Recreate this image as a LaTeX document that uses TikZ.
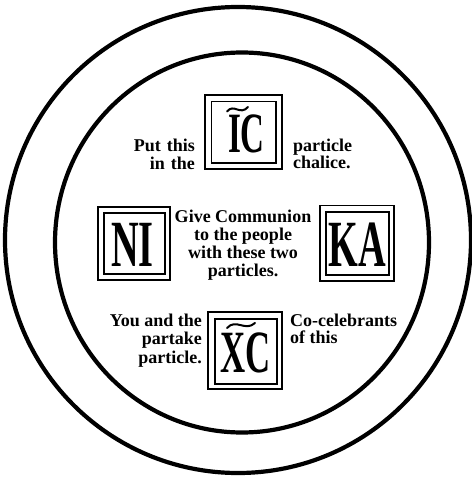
\documentclass[tikz,border=0pt]{standalone}
\usepackage{fontspec}
\setmainfont{Liberation Serif}
\begin{document}
\begin{tikzpicture}[x=1pt,y=-1pt,
  ring/.style={draw=black,line width=4.2pt},
  outerbox/.style={draw=black,line width=1.2pt},
  innerbox/.style={draw=black,line width=1.7pt},
  titlo/.style={draw=black,line width=2pt,line cap=round},
  caption/.style={inner sep=0pt,font=\fontsize{18}{#1}\selectfont\bfseries},
  caption/.default=18,
  letters/.style={inner sep=0pt,anchor=base}]
\useasboundingbox (0,0) rectangle (471,481);
% plates
\draw[ring] (238,240) circle (233);
\draw[ring] (242,242.5) ellipse (187 and 190);
% IC box
\draw[outerbox] (205,95) rectangle (282,169);
\draw[innerbox] (211.5,101.5) rectangle (276,163);
\node[letters] (ic) at (246.5,153) {\scalebox{0.58}[1]{\fontsize{57}{57}\selectfont\bfseries IC}};
\draw[titlo] (227,111.5) .. controls (234,103) and (240,116) .. (248,107);
% NI box
\draw[outerbox] (98,207) rectangle (170,280);
\draw[innerbox] (104,213) rectangle (165,274);
\node[letters] (ni) at (132.5,266) {\scalebox{0.58}[1]{\fontsize{66}{66}\selectfont\bfseries NI}};
% KA box
\draw[outerbox] (320,205.5) rectangle (394,281);
\draw[innerbox] (326,212) rectangle (389,275);
\node[letters] (ka) at (357,266) {\scalebox{0.58}[1]{\fontsize{66}{66}\selectfont\bfseries KA}};
% XC box
\draw[outerbox] (208,312) rectangle (282,389);
\draw[innerbox] (215,319) rectangle (277,384);
\node[letters] (xc) at (246,372) {\scalebox{0.58}[1]{\fontsize{60}{60}\selectfont\bfseries XC}};
\draw[titlo] (227,328) .. controls (236,318) and (245,332) .. (255,323);
% captions
\node[caption=16,anchor=base east] (t1) at (195,152) {\begin{tabular}[t]{@{}r@{}}Put\,\,this\\in\,\,the\end{tabular}};
\node[caption=16,anchor=base west] (t2) at (293,151) {\begin{tabular}[t]{@{}l@{}}particle\\chalice.\end{tabular}};
\node[caption=18.3,anchor=base] (t3) at (243,222) {\begin{tabular}[t]{@{}c@{}}Give Communion\\to the people\\with these two\\particles.\end{tabular}};
\node[caption=18.5,anchor=base east] (t4) at (202,326) {\begin{tabular}[t]{@{}r@{}}You and the\\partake\\particle.\end{tabular}};
\node[caption=17.5,anchor=base west] (t5) at (290,326) {\begin{tabular}[t]{@{}l@{}}Co-celebrants\\of this\end{tabular}};
\end{tikzpicture}
\end{document}
